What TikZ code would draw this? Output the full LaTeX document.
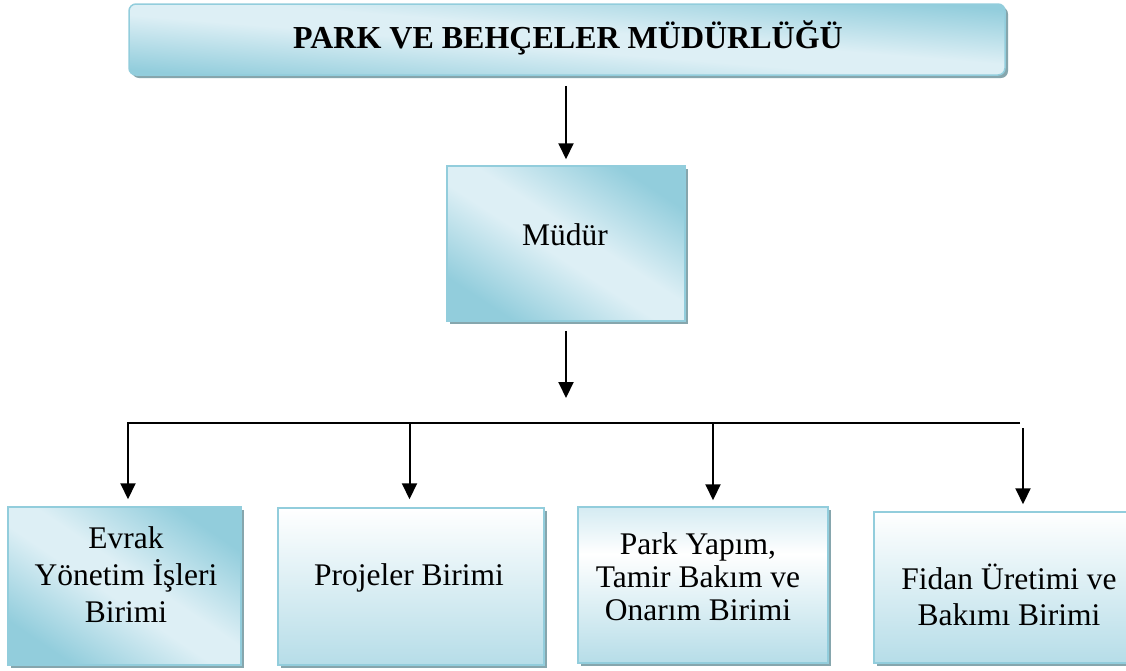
\documentclass[tikz,border=0pt]{standalone}
\usepackage{fontspec}
\setmainfont{Liberation Serif}
\usetikzlibrary{arrows.meta,shadows}
\definecolor{bord}{RGB}{146,205,220}
\definecolor{dk}{RGB}{146,205,220}
\definecolor{lt}{RGB}{221,239,245}
\definecolor{ltb}{RGB}{212,235,242}
\definecolor{vdk}{RGB}{182,221,232}
\definecolor{shc}{RGB}{134,166,173}
\pgfdeclarehorizontalshading{diagsh}{100bp}{color(0bp)=(dk); color(25bp)=(dk); color(46bp)=(lt); color(54bp)=(lt); color(75bp)=(dk); color(100bp)=(dk)}
\pgfdeclareverticalshading{vsh}{100bp}{color(0bp)=(vdk); color(25bp)=(vdk); color(75bp)=(white); color(100bp)=(white)}
\pgfdeclareverticalshading{vshb}{100bp}{color(0bp)=(vdk); color(25bp)=(vdk); color(60bp)=(white); color(75bp)=(ltb); color(100bp)=(ltb)}
\newcommand\myfl{\rule{0pt}{28pt}}
\begin{document}
\begin{tikzpicture}[x=1pt,y=-1pt,
  box/.style={draw=bord, line width=1.5pt, inner sep=0pt,
    general shadow={fill=shc, shadow xshift=3pt, shadow yshift=-3pt}},
  diagbox/.style={box, shade, shading=diagsh, shading angle=#1},
  vertbox/.style={box, shade, shading=vsh},
  txt/.style={font=\fontsize{31.5}{37}\selectfont, align=center, inner sep=0pt},
  arr/.style={line width=2pt, -{Triangle[length=16pt,width=15pt]}}]
\fill[white] (0,0) rectangle (1126,670);
\useasboundingbox (0,0) rectangle (1126,670);
% boxes
\node[diagbox=85.4, rounded corners=7pt, minimum width=876pt, minimum height=71pt] (top) at (567,39.5) {};
\node[diagbox=56.9, minimum width=238pt, minimum height=155pt] (mudur) at (566,243.5) {};
\node[diagbox=55.9, minimum width=233pt, minimum height=158pt] (evrak) at (124.5,586) {};
\node[vertbox, minimum width=266pt, minimum height=157pt] (proj) at (411,586.5) {};
\node[box, shade, shading=vshb, minimum width=250pt, minimum height=156pt] (park) at (703,585) {};
\node[vertbox, minimum width=270pt, minimum height=151pt] (fidan) at (1009,587.5) {};
% texts
\node[font=\bfseries\fontsize{32}{38}\selectfont, anchor=base, inner sep=0pt] (title) at (568,48) {PARK VE BEHÇELER MÜDÜRLÜĞÜ};
\node[txt, anchor=base] (mudurtxt) at (565,245) {Müdür};
\node[txt, anchor=north] (evraktxt) at (126,520) {\myfl Evrak\\Yönetim İşleri\\Birimi};
\node[txt, anchor=base] (projtxt) at (409,585) {Projeler Birimi};
\node[txt, font=\fontsize{31.5}{33}\selectfont, anchor=north] (parktxt) at (698,526) {\myfl Park Yapım,\\Tamir Bakım ve\\Onarım Birimi};
\node[txt, font=\fontsize{31.5}{36}\selectfont, anchor=north] (fidantxt) at (1009,561) {\myfl Fidan Üretimi ve\\Bakımı Birimi};
% bus coordinates
\coordinate (bL) at (128,423);
\coordinate (bR) at (1020,423);
\coordinate (b2) at (409.5,423);
\coordinate (b3) at (713,423);
\coordinate (b4) at (1023,428);
% connectors
\draw[arr, shorten <=10pt, shorten >=6pt] (mudur.north |- top.south) -- (mudur.north);
\draw[arr, shorten <=9pt, shorten >=25pt] (mudur.south) -- (mudur.south |- bL);
\draw[arr, shorten >=7pt] (bR) -- (bL) -- (bL |- evrak.north);
\draw[arr, shorten >=8pt] (b2) -- (b2 |- proj.north);
\draw[arr, shorten >=6pt] (b3) -- (b3 |- park.north);
\draw[arr, shorten >=7pt] (b4) -- (b4 |- fidan.north);
\end{tikzpicture}
\end{document}
